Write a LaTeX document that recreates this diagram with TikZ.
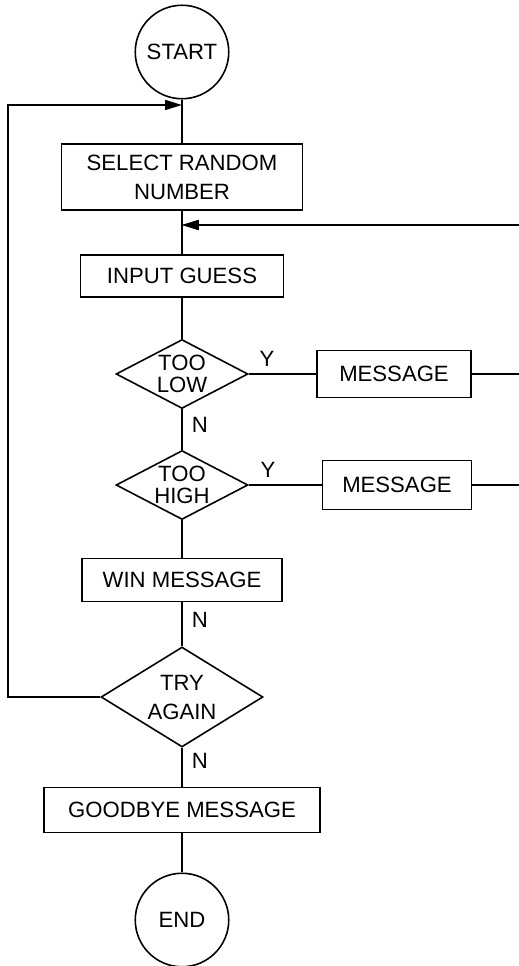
\documentclass[tikz,border=0pt]{standalone}
\usepackage{fontspec}
\setmainfont{Liberation Sans}
\usetikzlibrary{shapes.geometric,arrows.meta}

\begin{document}
\begin{tikzpicture}[x=0.02cm, y=-0.02cm, line width=0.9pt,
    txt/.style={font=\fontsize{12.6}{16.5}\selectfont},
    terminal/.style={draw, circle, txt, minimum size=1.87cm, inner sep=0pt},
    process/.style={draw, rectangle, txt, align=center, inner sep=0pt},
    decision/.style={draw, diamond, align=center, inner sep=0pt, aspect=1.8,
        font=\fontsize{12.6}{12.5}\selectfont},
    flag/.style={txt, inner sep=0pt},
    loopend/.style={-{Triangle[length=3.4mm,width=2mm]}}]
    \useasboundingbox (0,0) rectangle (518,966);

    % Draw the main column of steps
    \node[terminal] (start) at (182,52) {START};
    \node[process, minimum width=4.82cm, minimum height=1.32cm] (select) at (182,177) {SELECT RANDOM\\NUMBER};
    \node[process, minimum width=4.06cm, minimum height=0.84cm] (input) at (182,276) {INPUT GUESS};
    \node[decision, minimum width=2.64cm, minimum height=1.38cm] (low) at (182,374) {TOO\\LOW};
    \node[decision, minimum width=2.64cm, minimum height=1.38cm] (high) at (182,485) {TOO\\HIGH};
    \node[process, minimum width=4.0cm, minimum height=0.86cm] (win) at (182,580) {WIN MESSAGE};
    \node[decision, minimum width=3.24cm, minimum height=2.0cm, aspect=1.6,
        font=\fontsize{12.6}{16.5}\selectfont] (try) at (182,697) {TRY\\AGAIN};
    \node[process, minimum width=5.52cm, minimum height=0.9cm] (bye) at (182,810) {GOODBYE MESSAGE};
    \node[terminal] (end) at (182,920) {END};

    % Draw the two message boxes on the right
    \node[process, minimum width=3.08cm, minimum height=0.94cm] (msg1) at (394,374) {MESSAGE};
    \node[process, minimum width=2.98cm, minimum height=0.98cm] (msg2) at (397,485) {MESSAGE};

    % Points where the loops come back in
    \coordinate (j1) at (182,105);
    \coordinate (j2) at (182,225);
    \coordinate (lcorner) at (8,105);
    \coordinate (rcorner) at (522,225);

    % Draw the straight connectors
    \draw (start) -- (select);
    \draw (select) -- (input);
    \draw (input) -- (low);
    \draw (low) -- node[flag, pos=.38, anchor=west, xshift=0.18cm] {N} (high);
    \draw (high) -- (win);
    \draw (win) -- node[flag, pos=.39, anchor=west, xshift=0.18cm] {N} (try);
    \draw (try) -- node[flag, pos=.33, anchor=west, xshift=0.18cm] {N} (bye);
    \draw (bye) -- (end);

    % Draw the yes branches
    \draw (low.east) -- node[flag, at start, anchor=south west, xshift=0.2cm, yshift=0.14cm] {Y} (msg1.west);
    \draw (high.east) -- node[flag, at start, anchor=south west, xshift=0.22cm, yshift=0.14cm] {Y} (msg2.west);

    % Draw the loops back
    \draw[loopend] (msg1.east) -| (rcorner) -- (j2);
    \draw[loopend] (msg2.east) -| (rcorner) -- (j2);
    \draw[loopend] (try.west) -| (lcorner) -- (j1);

\end{tikzpicture}
\end{document}
